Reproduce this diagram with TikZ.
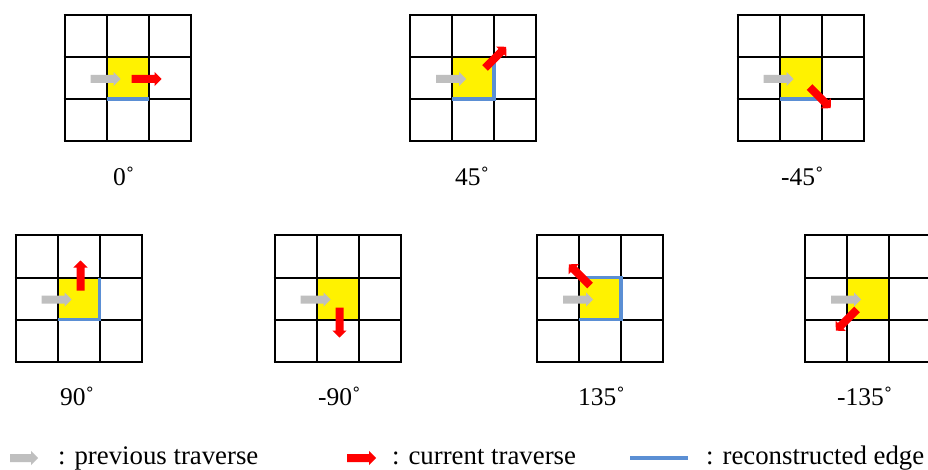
\documentclass[tikz,border=0pt]{standalone}
\usepackage{fontspec}
\setmainfont{Liberation Serif}
\definecolor{edgeblue}{RGB}{91,143,212}
\definecolor{prevgray}{RGB}{191,191,191}
\definecolor{currred}{RGB}{255,0,0}
\tikzset{
  gridline/.style={line width=2pt, black},
  recedge/.style={line width=3.8pt, edgeblue},
  anglbl/.style={font=\fontsize{25.5}{28}\selectfont, inner sep=0pt, anchor=base west},
  leglbl/.style={font=\fontsize{26.8}{30}\selectfont, inner sep=0pt, anchor=base west},
}
% block arrow: x, y, angle, colour, length
\newcommand\blockarr[5]{%
  \fill[#4, shift={(#1,#2)}, rotate=#3] (0,-4) -- (#5-7,-4) -- (#5-7,-7.2) -- (#5,0) -- (#5-7,7.2) -- (#5-7,4) -- (0,4) -- cycle;}
% 3x3 grid with yellow centre cell at L,T
\newcommand\cellgrid[2]{%
  \begin{scope}[shift={(#1,#2)}]
    \fill[yellow] (42,42) rectangle (84,84);
    \foreach \k in {0,42,84,126} {
      \draw[gridline] (\k,-1) -- (\k,127);
      \draw[gridline] (-1,\k) -- (127,\k);
    }
  \end{scope}}
\begin{document}
\begin{tikzpicture}[x=1pt,y=-1pt]
  \useasboundingbox (0,0) rectangle (928,470);
  \fill[white] (0,0) rectangle (928,470);

  % ---- grid 1 : 0
  \cellgrid{64.5}{15}
  \begin{scope}[shift={(64.5,15)}]
    \draw[recedge] (42,84) -- (84,84);
    \blockarr{26}{64}{0}{prevgray}{30}
    \blockarr{67}{64}{0}{currred}{30}
  \end{scope}
  \node[anglbl] (l0) at (113,186) {0˚};

  % ---- grid 2 : 45
  \cellgrid{410}{15}
  \begin{scope}[shift={(410,15)}]
    \draw[recedge] (42,84) -- (84,84) -- (84,42);
    \blockarr{26}{64}{0}{prevgray}{30}
    \blockarr{75}{53}{45}{currred}{30}
  \end{scope}
  \node[anglbl] (l45) at (455,186) {45˚};

  % ---- grid 3 : -45
  \cellgrid{737.5}{15}
  \begin{scope}[shift={(737.5,15)}]
    \draw[recedge] (42,84) -- (84,84);
    \blockarr{26}{64}{0}{prevgray}{30}
    \blockarr{72}{72}{-45}{currred}{30}
  \end{scope}
  \node[anglbl] (lm45) at (781,186) {-45˚};

  % ---- grid 4 : 90
  \cellgrid{15.5}{235.5}
  \begin{scope}[shift={(15.5,235.5)}]
    \draw[recedge] (42,84) -- (84,84) -- (84,42);
    \blockarr{26}{64}{0}{prevgray}{30}
    \blockarr{65}{55}{90}{currred}{30}
  \end{scope}
  \node[anglbl] (l90) at (60,405) {90˚};

  % ---- grid 5 : -90
  \cellgrid{274.5}{235.5}
  \begin{scope}[shift={(274.5,235.5)}]
    \blockarr{26}{64}{0}{prevgray}{30}
    \blockarr{65}{72}{-90}{currred}{30}
  \end{scope}
  \node[anglbl] (lm90) at (318,405) {-90˚};

  % ---- grid 6 : 135
  \cellgrid{537}{235.5}
  \begin{scope}[shift={(537,235.5)}]
    \draw[recedge] (42,42) -- (84,42) -- (84,84) -- (42,84);
    \blockarr{26}{64}{0}{prevgray}{30}
    \blockarr{53}{50}{135}{currred}{30}
  \end{scope}
  \node[anglbl] (l135) at (578,405) {135˚};

  % ---- grid 7 : -135
  \cellgrid{805}{235.5}
  \begin{scope}[shift={(805,235.5)}]
    \blockarr{26}{64}{0}{prevgray}{30}
    \blockarr{52}{74}{-135}{currred}{30}
  \end{scope}
  \node[anglbl] (lm135) at (837,405) {-135˚};

  % ---- legend
  \blockarr{10}{458}{0}{prevgray}{28}
  \node[leglbl] (lgprev) at (58,464) {: previous traverse};
  \blockarr{347}{458}{0}{currred}{29}
  \node[leglbl] (lgcurr) at (392,464) {: current traverse};
  \coordinate (bs) at (630,458);
  \coordinate (be) at (688,458);
  \draw[recedge] (bs) -- (be);
  \node[leglbl] (lgedge) at (706,464) {: reconstructed edge};
\end{tikzpicture}
\end{document}
